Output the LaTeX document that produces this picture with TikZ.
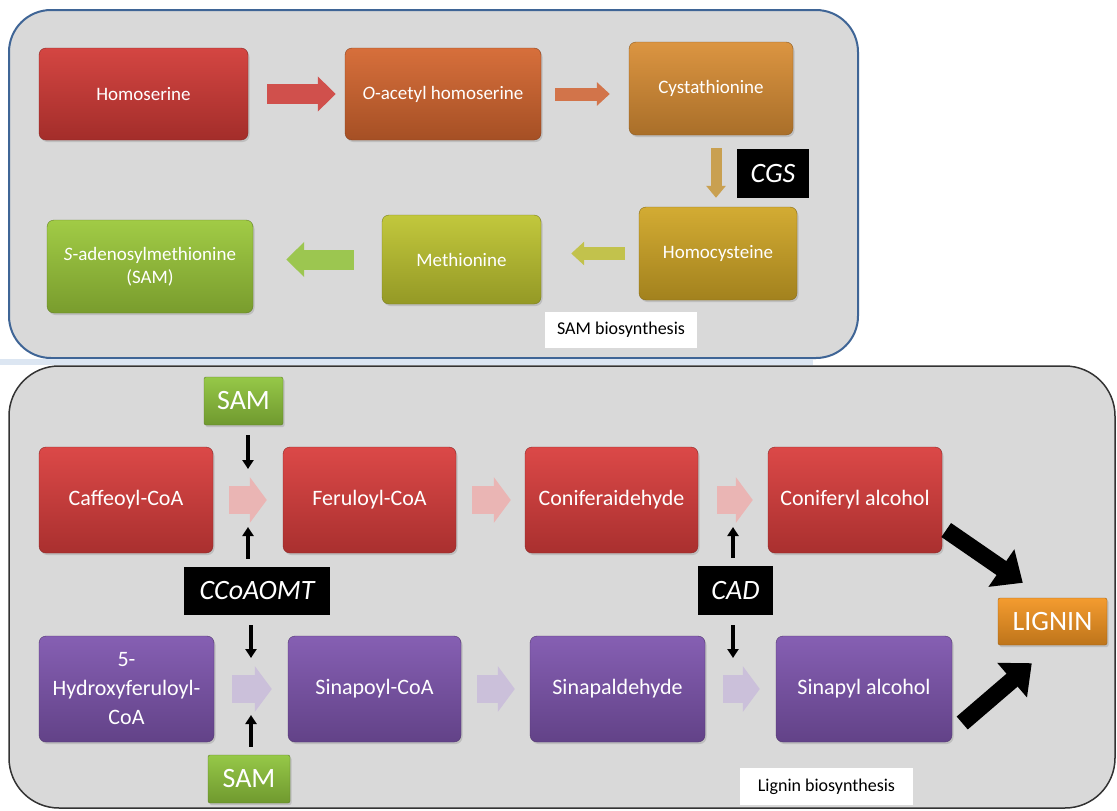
\documentclass[tikz,border=0pt]{standalone}
\usepackage{fontspec}
\setmainfont{Carlito}
\usetikzlibrary{arrows.meta, calc, shadows}

\definecolor{panelgray}{HTML}{D9D9D9}
\definecolor{panelblue}{HTML}{3F6596}
\definecolor{panelline}{HTML}{333333}
\definecolor{bandblue}{HTML}{DCE6F2}
\definecolor{homred}{HTML}{D13A36}
\definecolor{oacorange}{HTML}{D4662F}
\definecolor{cysorange}{HTML}{D98E35}
\definecolor{homogold}{HTML}{D0A626}
\definecolor{metyellow}{HTML}{BEC430}
\definecolor{samgreen}{HTML}{9BC83A}
\definecolor{ligred}{HTML}{D93D3C}
\definecolor{ligpurple}{HTML}{7E55AE}
\definecolor{smallgreen}{HTML}{8FC43C}
\definecolor{ligorange}{HTML}{F39522}
\definecolor{arrowred}{HTML}{D0504C}
\definecolor{arroworange}{HTML}{D2744A}
\definecolor{arrowtan}{HTML}{C9A050}
\definecolor{arrowyellow}{HTML}{C2C24C}
\definecolor{arrowgreen}{HTML}{9CC650}
\definecolor{fadedred}{HTML}{EAB5B4}
\definecolor{fadedpurple}{HTML}{CBC0DA}

\begin{document}
\begin{tikzpicture}
[x=1pt, y=-1pt,
 box/.style={rounded corners=7pt, inner sep=0pt, align=center, text=white,
             draw=#1!65!black, top color=#1!94!white, bottom color=#1!78!black,
             drop shadow={opacity=.3, shadow xshift=1.5pt, shadow yshift=-2pt}},
 top text/.style={font=\fontsize{19}{23}\selectfont},
 low text/.style={font=\fontsize{22}{29}\selectfont},
 big text/.style={font=\fontsize{28}{30}\selectfont, rounded corners=2pt},
 enzyme/.style={fill=black, text=white, inner sep=0pt, font=\fontsize{28}{30}\selectfont\itshape},
 tag/.style={fill=white, inner sep=0pt, font=\fontsize{18}{20}\selectfont},
 wide flow/.style={line width=20pt, -{Triangle[length=18pt, width=34pt]}},
 thin flow/.style={line width=13pt, -{Triangle[length=13pt, width=23pt]}},
 down flow/.style={line width=11pt, -{Triangle[length=12pt, width=19pt]}},
 fat flow/.style={line width=28pt, -{Triangle[length=17pt, width=45pt]}},
 cue/.style={line width=4pt, -{Triangle[length=9pt, width=11pt]}},
 to lignin/.style={line width=17pt, -{Triangle[length=26pt, width=44pt]}},
]

\fill[white] (0,0) rectangle (1117,811);
\useasboundingbox (0,0) rectangle (1117,811);

% panels
\draw[panelblue, line width=2pt, fill=panelgray, rounded corners=42pt] (9,10) rectangle (858,358);
\fill[bandblue] (0,359) rectangle (813,365);
\draw[panelline, line width=1.5pt, fill=panelgray, rounded corners=50pt] (9,366) rectangle (1115,808);

% SAM biosynthesis
\node[box=homred, top text, minimum width=209pt, minimum height=92pt]     (homoserine) at (143.5,94)  {Homoserine};
\node[box=oacorange, top text, minimum width=196pt, minimum height=92pt]  (oacetyl)    at (443,94)    {\textit{O}-acetyl homoserine};
\node[box=cysorange, top text, minimum width=164pt, minimum height=93pt]  (cysta)      at (711,88.5)  {Cystathionine};
\node[box=homogold, top text, minimum width=158pt, minimum height=93pt]   (homocys)    at (718,253.5) {Homocysteine};
\node[box=metyellow, top text, minimum width=159pt, minimum height=89pt]  (methionine) at (461.5,259.5) {Methionine};
\node[box=samgreen, top text, minimum width=206pt, minimum height=93pt]   (sam)        at (150,266.5) {\textit{S}-adenosylmethionine\\(SAM)};
\node[enzyme, minimum width=72pt, minimum height=49pt]                    (cgs)        at (773,173.5) {CGS};
\node[tag, minimum width=152pt, minimum height=36pt]                      (samtag)     at (621,330)   {SAM biosynthesis};

\draw[wide flow, arrowred, shorten <=19pt, shorten >=9pt]     (homoserine.east) -- (oacetyl.west);
\draw[thin flow, arroworange, shorten <=14pt, shorten >=19pt] (oacetyl.east) -- (oacetyl.east -| cysta.west);
\draw[down flow, arrowtan, shorten <=13pt, shorten >=9pt]     ([xshift=5pt]cysta.south) -- ([xshift=5pt]cysta.south |- homocys.north);
\draw[thin flow, arrowyellow, shorten <=14pt, shorten >=30pt] (homocys.west) -- (homocys.west -| methionine.east);
\draw[wide flow, arrowgreen, shorten <=28pt, shorten >=33pt]  (methionine.west) -- (methionine.west -| sam.east);

% Lignin biosynthesis
\node[box=ligred, low text, minimum width=174pt, minimum height=106pt]    (caffeoyl)  at (126,500)    {Caffeoyl-CoA};
\node[box=ligred, low text, minimum width=173pt, minimum height=106pt]    (feruloyl)  at (369.5,500)  {Feruloyl-CoA};
\node[box=ligred, low text, minimum width=173pt, minimum height=106pt]    (conald)    at (611.5,500)  {Coniferaidehyde};
\node[box=ligred, low text, minimum width=174pt, minimum height=106pt]    (conalc)    at (855,500)    {Coniferyl alcohol};
\node[box=ligpurple, low text, minimum width=175pt, minimum height=106pt] (hydroxy)   at (126.5,689)  {5-\\Hydroxyferuloyl-\\CoA};
\node[box=ligpurple, low text, minimum width=173pt, minimum height=106pt] (sinapoyl)  at (374.5,689)  {Sinapoyl-CoA};
\node[box=ligpurple, low text, minimum width=175pt, minimum height=106pt] (sinald)    at (617.5,689)  {Sinapaldehyde};
\node[box=ligpurple, low text, minimum width=176pt, minimum height=106pt] (sinalc)    at (864,689)    {Sinapyl alcohol};
\node[box=ligorange, big text, minimum width=109pt, minimum height=47pt]  (lignin)    at (1052.5,621.5) {LIGNIN};
\node[box=smallgreen, big text, minimum width=79pt, minimum height=48pt]  (sam1)      at (243.5,401)  {SAM};
\node[box=smallgreen, big text, minimum width=82pt, minimum height=48pt]  (sam2)      at (249,779)    {SAM};
\node[enzyme, minimum width=146pt, minimum height=48pt]                   (ccoaomt)   at (257,591)    {CCoAOMT};
\node[enzyme, minimum width=75pt, minimum height=49pt]                    (cad)       at (735.5,590.5) {CAD};
\node[tag, minimum width=173pt, minimum height=37pt]                      (lignintag) at (826.5,786.5) {Lignin biosynthesis};

\draw[fat flow, fadedred, shorten <=16pt, shorten >=16pt]    (caffeoyl) -- (feruloyl);
\draw[fat flow, fadedred, shorten <=16pt, shorten >=14pt]    (feruloyl) -- (conald);
\draw[fat flow, fadedred, shorten <=19pt, shorten >=15pt]    (conald) -- (conalc);
\draw[fat flow, fadedpurple, shorten <=18pt, shorten >=16pt] (hydroxy) -- (sinapoyl);
\draw[fat flow, fadedpurple, shorten <=16pt, shorten >=15pt] (sinapoyl) -- (sinald);
\draw[fat flow, fadedpurple, shorten <=18pt, shorten >=16pt] (sinald) -- (sinalc);

\coordinate (m1) at ($(caffeoyl.east)!.5!(feruloyl.west)$);
\coordinate (m2) at ($(hydroxy.east)!.5!(sinapoyl.west)$);
\coordinate (m3) at ($(conald.east)!.5!(conalc.west)$);
\coordinate (m4) at ($(sinald.east)!.5!(sinalc.west)$);

\draw[cue, shorten <=10pt, shorten >=31pt] (m1 |- sam1.south) -- (m1);
\draw[cue, shorten <=8pt, shorten >=27pt]  (m1 |- ccoaomt.north) -- (m1);
\draw[cue, shorten <=10pt, shorten >=31pt] (m2 |- ccoaomt.south) -- (m2);
\draw[cue, shorten <=8pt, shorten >=26pt]  (m2 |- sam2.north) -- (m2);
\draw[cue, shorten <=8pt, shorten >=27pt]  (m3 |- cad.north) -- (m3);
\draw[cue, shorten <=10pt, shorten >=31pt] (m3 |- cad.south) -- (m3 |- m4);

\draw[to lignin] ([xshift=4pt,yshift=-30pt]conalc.east) -- ([xshift=25pt,yshift=15pt]lignin.north west);
\draw[to lignin] ([xshift=10pt,yshift=-34pt]sinalc.east) -- ([xshift=34pt,yshift=-18pt]lignin.south west);
\end{tikzpicture}
\end{document}
